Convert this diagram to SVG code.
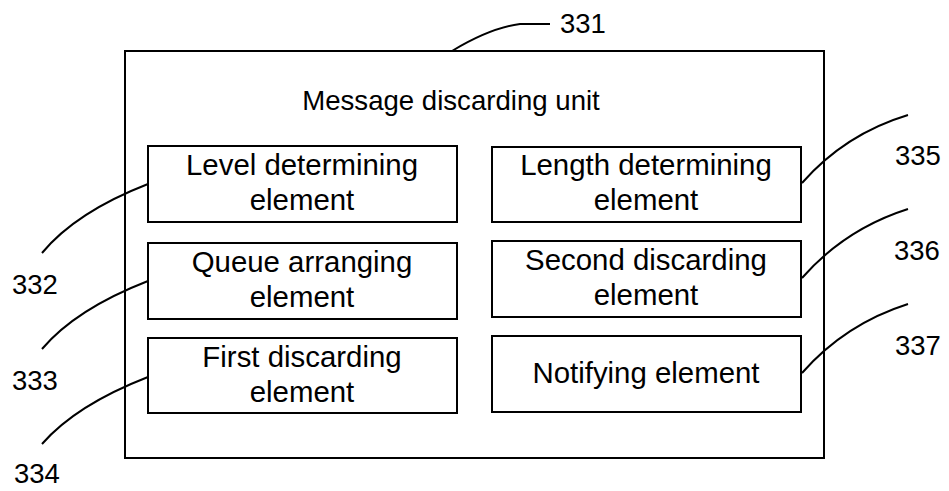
<svg xmlns="http://www.w3.org/2000/svg" width="949" height="491" viewBox="0 0 949 491">
<style>
.box{fill:#fff;stroke:#000;stroke-width:2}
.t{font-family:"Liberation Sans",Arial,sans-serif;font-size:29.4px;fill:#000;text-anchor:middle}
.lbl{font-family:"Liberation Sans",Arial,sans-serif;font-size:27.5px;fill:#000}
.ld{fill:none;stroke:#000;stroke-width:2}
</style>
<rect width="949" height="491" fill="#fff"/>
<g id="unit">
<rect class="box" x="125" y="51" width="699" height="407"/>
<text class="t" x="451" y="110" style="font-size:27.6px">Message discarding unit</text>
</g>
<g id="n332"><rect class="box" x="148" y="146" width="309" height="76"/><text class="t" x="302" y="175">Level determining</text><text class="t" x="302" y="210">element</text></g>
<g id="n333"><rect class="box" x="148" y="243" width="309" height="76"/><text class="t" x="302" y="272">Queue arranging</text><text class="t" x="302" y="307">element</text></g>
<g id="n334"><rect class="box" x="148" y="338" width="309" height="75"/><text class="t" x="302" y="367">First discarding</text><text class="t" x="302" y="402">element</text></g>
<g id="n335"><rect class="box" x="492" y="147" width="309" height="75"/><text class="t" x="646" y="175">Length determining</text><text class="t" x="646" y="210">element</text></g>
<g id="n336"><rect class="box" x="492" y="241" width="309" height="76"/><text class="t" x="646" y="270">Second discarding</text><text class="t" x="646" y="305">element</text></g>
<g id="n337"><rect class="box" x="492" y="336" width="309" height="76"/><text class="t" x="646" y="383">Notifying element</text></g>
<g id="connectors">
<path class="ld" d="M452,51 Q490,28 520,24 L550,24"/>
<path class="ld" d="M148,184 Q76,212 42,253"/>
<path class="ld" d="M148,281 Q76,309 42,349"/>
<path class="ld" d="M148,377 Q76,405 42,444"/>
<path class="ld" d="M802,183 Q845,134 908,115"/>
<path class="ld" d="M802,278 Q845,229 908,209"/>
<path class="ld" d="M802,373 Q845,324 908,304"/>
</g>
<g id="labels">
<text class="lbl" x="560" y="33">331</text>
<text class="lbl" x="12" y="294">332</text>
<text class="lbl" x="12" y="390">333</text>
<text class="lbl" x="14" y="483">334</text>
<text class="lbl" x="895" y="165">335</text>
<text class="lbl" x="894" y="260">336</text>
<text class="lbl" x="895" y="355">337</text>
</g>
</svg>
